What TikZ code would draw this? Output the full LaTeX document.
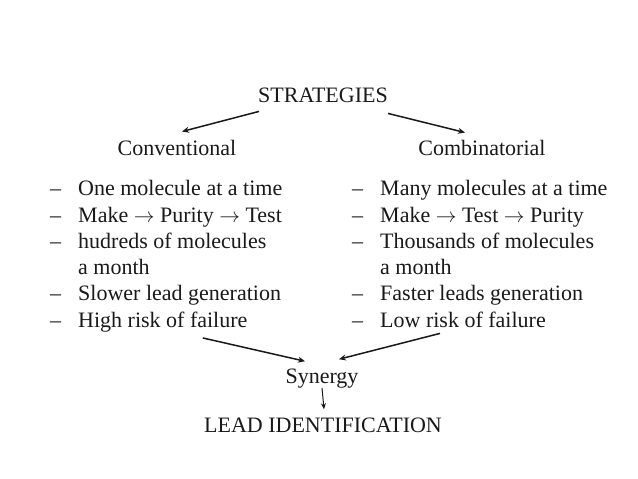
\documentclass[tikz,border=0pt]{standalone}
\usepackage{fontspec}
\setmainfont{Liberation Serif}
\usetikzlibrary{arrows.meta}

\tikzset{
	txt/.style={anchor=base west, inner sep=0pt, text=black!90, font=\fontsize{22}{26}\selectfont},
	head/.style={anchor=base, inner sep=0pt, text=black!90, font=\fontsize{22}{26}\selectfont},
	arr/.style={draw=black!90, line width=1.5pt, -{Stealth[length=7pt,width=6pt]}},
	downarr/.style={draw=black!90, line width=1pt, -{Stealth[length=6pt,width=5pt]}}
}

\begin{document}
\begin{tikzpicture}[x=1pt,y=-1pt]
		\useasboundingbox (0,0) rectangle (638,479);

		\node[head] (strat) at (323,102) {STRATEGIES};
		\node[head] (conv) at (177,155) {Conventional};
		\node[head] (comb) at (482,155) {Combinatorial};

		\node[txt] (ld1) at (50,195) {--};
		\node[txt] (ld2) at (50,222) {--};
		\node[txt] (ld3) at (50,248) {--};
		\node[txt] (ld5) at (50,300) {--};
		\node[txt] (ld6) at (50,327) {--};

		\node[txt] (l1) at (78,195) {One molecule at a time};
		\node[txt] (l2) at (78,222) {Make $\rightarrow$ Purity $\rightarrow$ Test};
		\node[txt] (l3) at (78,248) {hudreds of molecules};
		\node[txt] (l4) at (78,274) {a month};
		\node[txt] (l5) at (78,300) {Slower lead generation};
		\node[txt] (l6) at (78,327) {High risk of failure};

		\node[txt] (rd1) at (352,195) {--};
		\node[txt] (rd2) at (352,222) {--};
		\node[txt] (rd3) at (352,248) {--};
		\node[txt] (rd5) at (352,300) {--};
		\node[txt] (rd6) at (352,327) {--};

		\node[txt] (r1) at (380,195) {Many molecules at a time};
		\node[txt] (r2) at (380,222) {Make $\rightarrow$ Test $\rightarrow$ Purity};
		\node[txt] (r3) at (380,248) {Thousands of molecules};
		\node[txt] (r4) at (380,274) {a month};
		\node[txt] (r5) at (380,300) {Faster leads generation};
		\node[txt] (r6) at (380,327) {Low risk of failure};

		\node[head] (syn) at (322,383) {Synergy};
		\node[head] (lead) at (323,432) {LEAD IDENTIFICATION};

		\draw[arr] ([xshift=1pt,yshift=-9pt]strat.south west) -- ([xshift=5pt,yshift=8pt]conv.north);
		\draw[arr] ([yshift=-11pt]strat.south east) -- ([xshift=-17pt,yshift=7pt]comb.north);

		\draw[arr] ([xshift=40pt,yshift=-6pt]l6.south) -- ([xshift=-17pt,yshift=7pt]syn.north);
		\draw[arr] ([xshift=-23pt,yshift=-6pt]r6.south) -- ([xshift=17pt,yshift=9pt]syn.north);
		\draw[downarr] (syn.south) -- ([xshift=1pt,yshift=8pt]lead.north);
	\end{tikzpicture}
\end{document}
